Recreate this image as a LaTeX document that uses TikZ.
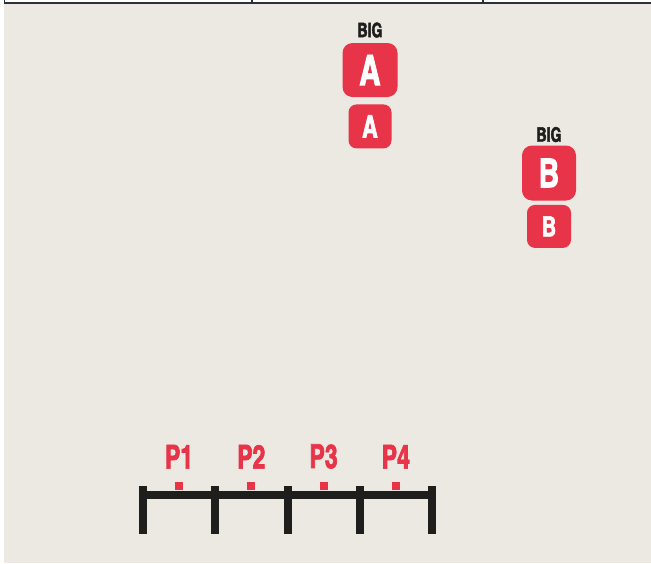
\documentclass[tikz,border=0pt]{standalone}
\usepackage{fontspec}
\usetikzlibrary{positioning}
\usetikzlibrary{calc}
\newfontfamily\keyfont[FakeStretch=0.85,FakeBold=2]{texgyreheroscn-bold.otf}
\definecolor{paper}{RGB}{236,232,226}
\definecolor{keyred}{RGB}{232,52,72}
\definecolor{ink}{RGB}{30,30,28}
\definecolor{frame}{RGB}{44,48,58}
\tikzset {
  key node/.style = {
    fill = keyred,
    text = white,
    inner sep = 0
  },
  % large key cap
  bigkey/.style = {
    key node,
    rounded corners = 10pt,
    minimum width = 55pt,
    minimum height = 54pt,
    font = \keyfont\fontsize{42}{42}\selectfont
  },
  % small key cap
  smallkey/.style = {
    key node,
    rounded corners = 8pt,
    minimum width = 43pt,
    minimum height = 44pt
  },
  % caption over a key
  biglabel/.style = {
    text = ink,
    inner sep = 0,
    font = \keyfont\fontsize{20}{20}\selectfont
  },
  % position mark on the rail
  mark dot/.style = {
    fill = keyred,
    minimum size = 8pt,
    inner sep = 0
  },
  plabel/.style = {
    text = keyred,
    inner sep = 0,
    font = \keyfont\fontsize{33}{33}\selectfont
  },
  rail/.style = {
    draw = ink,
    line width = 8pt
  }
}
\begin{document}
\begin{tikzpicture}[x=1pt,y=-1pt]
    \useasboundingbox (0,0) rectangle (651,563);
    \fill[paper] (4,4) rectangle (651,563);
    \draw[frame, line width=1.5pt] (4,3) -- (651,3);
    \foreach \x in {4.5,252,483}
      \draw[frame, line width=1.5pt] (\x,0) -- (\x,3);

    % key A
    \node[bigkey] (bigA) at (370,70) {A};
    \node[smallkey, font=\keyfont\fontsize{31}{31}\selectfont] (smallA) [below=7pt of bigA] {A};
    \node[biglabel] (bigA-label) [above=5pt of bigA] {BIG};

    % key B
    \node[bigkey, minimum width=54pt, minimum height=55pt,
      font=\keyfont\fontsize{40}{40}\selectfont] (bigB) at (549,173) {B};
    \node[smallkey, minimum width=44pt, minimum height=43pt,
      font=\keyfont\fontsize{28}{28}\selectfont] (smallB) [below=4pt of bigB] {B};
    \node[biglabel] (bigB-label) [above=3pt of bigB] {BIG};

    % rail with ticks
    \foreach \i in {0,...,4}
      \coordinate (t\i) at ({143+72.25*\i},495);
    \draw[rail] ([xshift=-3pt]t0) -- ([xshift=3pt]t4);
    \foreach \i in {0,...,4}
      \draw[rail] ([yshift=9pt]t\i) -- ([yshift=-39pt]t\i);

    % positions
    \foreach \i [evaluate=\i as \j using int(\i-1)] in {1,...,4} {
      \node[mark dot] (m\i) at ($(t\j)!0.5!(t\i)+(0,-9)$) {};
      \node[plabel] (p\i) [above=13pt of m\i] {P\i};
    }
\end{tikzpicture}
\end{document}
